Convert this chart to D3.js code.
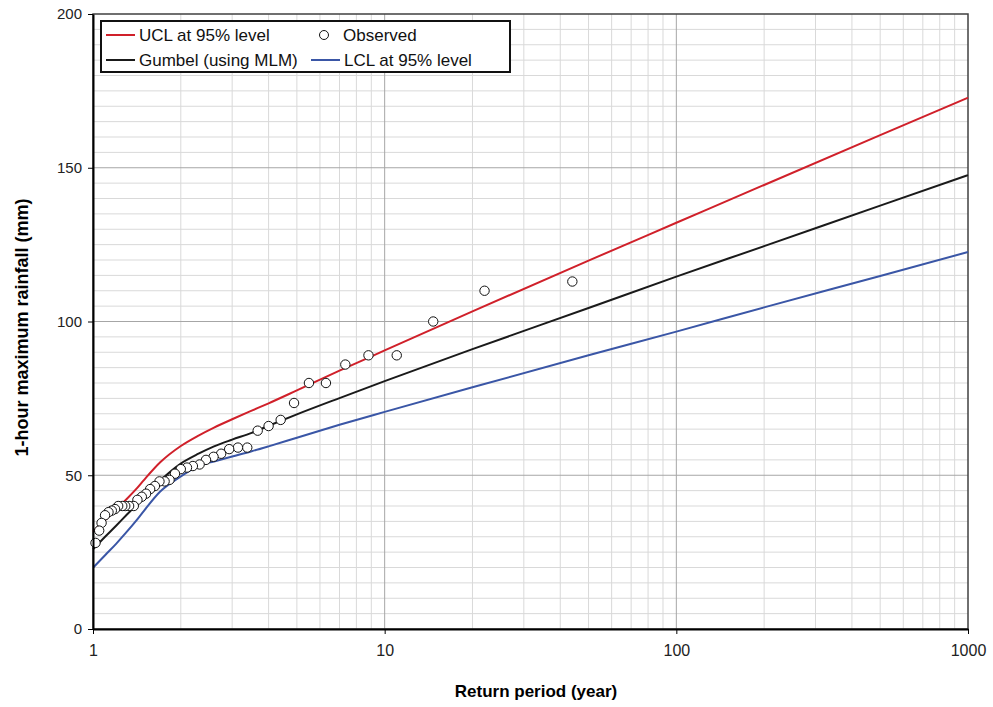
<!DOCTYPE html>
<html>
<head>
<meta charset="utf-8">
<script src="https://cdn.jsdelivr.net/npm/d3@7"></script>
<style>
  body { margin: 0; background: #fff; }
  text { font-family: "Liberation Sans", Arial, sans-serif; }
</style>
</head>
<body>
<div class="canvas"></div>
<script>
// return periods (year) at which the fitted curves were read
const returnPeriods = [1, 1.1, 1.2, 1.3, 1.4, 1.5, 1.7, 2, 2.3, 2.6, 3, 3.5, 4, 5, 7, 10, 20, 50, 100, 200, 500, 1000]
const ucl    = [31.6, 35.4, 38.9, 42.1, 45.3, 48.6, 54.2, 59.5, 62.9, 65.5, 68.2, 71.0, 73.4, 77.6, 84.0, 90.6, 103.3, 119.8, 132.1, 144.4, 160.6, 172.8]
const gumbel = [25.9, 30.0, 33.6, 37.0, 40.1, 43.3, 48.3, 53.8, 57.0, 59.4, 61.6, 63.8, 66.1, 69.8, 75.1, 80.6, 91.0, 104.4, 114.6, 124.5, 137.7, 147.6]
const lcl    = [19.9, 24.0, 27.7, 31.4, 35.0, 38.6, 44.7, 49.6, 53.1, 54.5, 56.1, 57.8, 59.4, 62.2, 66.4, 70.6, 78.6, 89.0, 96.7, 104.6, 114.8, 122.6]

// observed annual maxima and their plotting positions
const observedT = [44, 22, 14.67, 11, 8.8, 7.33, 6.29, 5.5, 4.89, 4.4,
    4, 3.67, 3.38, 3.14, 2.93, 2.75, 2.59, 2.44, 2.32, 2.2,
    2.1, 2, 1.91, 1.83, 1.76, 1.69, 1.63, 1.57, 1.52, 1.47,
    1.42, 1.38, 1.33, 1.29, 1.26, 1.22, 1.19, 1.16, 1.13, 1.1,
    1.07, 1.05, 1.02]
const observed = [113, 110, 100, 89, 89, 86, 80, 80, 73.5, 68,
    66, 64.5, 59, 59, 58.5, 57, 56, 55, 53.5, 53,
    52.5, 52, 50.5, 48.5, 48, 48, 46.5, 45.5, 44, 43,
    42, 40, 40, 40, 40, 40, 39, 38.5, 38, 37,
    34.5, 32, 28]

const xTicks = [1, 10, 100, 1000]
const yTicks = [0, 50, 100, 150, 200]

const width = 993, height = 707
const margins = { top: 14, right: 25, bottom: 78, left: 93 }
const gWidth = width - margins.left - margins.right
const gHeight = height - margins.top - margins.bottom

const svg = d3.select('.canvas').append('svg').attr('width', width).attr('height', height)
const graph = svg.append('g').attr('transform', `translate(${margins.left}, ${margins.top})`)

const x = d3.scaleLog().domain([1, 1000]).range([0, gWidth])
const y = d3.scaleLinear().domain([0, 200]).range([gHeight, 0])

// gridlines
const minorX = []
xTicks.slice(0, -1).forEach(d => { for (let k = 2; k <= 9; k++) minorX.push(d * k) })
const grid = graph.append('g')
grid.selectAll('.hminor').data(d3.range(5, 200, 5).filter(v => v % 50 !== 0)).enter().append('line')
    .attr('x1', 0).attr('x2', gWidth).attr('y1', d => y(d)).attr('y2', d => y(d))
    .attr('stroke', '#d9d9d9').attr('stroke-width', 1)
grid.selectAll('.vminor').data(minorX).enter().append('line')
    .attr('y1', 0).attr('y2', gHeight).attr('x1', d => x(d)).attr('x2', d => x(d))
    .attr('stroke', '#d9d9d9').attr('stroke-width', 1)
grid.selectAll('.hmajor').data(yTicks.slice(1, -1)).enter().append('line')
    .attr('x1', 0).attr('x2', gWidth).attr('y1', d => y(d)).attr('y2', d => y(d))
    .attr('stroke', '#a6a6a6').attr('stroke-width', 1)
grid.selectAll('.vmajor').data(xTicks.slice(1, -1)).enter().append('line')
    .attr('y1', 0).attr('y2', gHeight).attr('x1', d => x(d)).attr('x2', d => x(d))
    .attr('stroke', '#a6a6a6').attr('stroke-width', 1)

// plot border
graph.append('rect').attr('width', gWidth).attr('height', gHeight)
    .attr('fill', 'none').attr('stroke', '#404040').attr('stroke-width', 1.5)

// curves
const line = d3.line()
    .x(d => x(d[0]))
    .y(d => y(d[1]))
    .curve(d3.curveMonotoneX)

const series = [
    { values: ucl, color: '#d0202a' },
    { values: lcl, color: '#3a56a6' },
    { values: gumbel, color: '#1a1a1a' }
]
series.forEach(s => {
    graph.append('path')
        .datum(returnPeriods.map((t, i) => [t, s.values[i]]))
        .attr('d', line)
        .attr('fill', 'none')
        .attr('stroke', s.color)
        .attr('stroke-width', 2)
})

// observed points
graph.selectAll('circle.obs').data(observedT.map((t, i) => [t, observed[i]])).enter()
    .append('circle')
    .attr('cx', d => x(d[0]))
    .attr('cy', d => y(d[1]))
    .attr('r', 4.7)
    .attr('fill', '#fff')
    .attr('stroke', '#111')
    .attr('stroke-width', 1)

// axes
const xAxis = d3.axisBottom(x).tickValues(xTicks).tickFormat(d3.format('d')).tickSize(5).tickSizeOuter(0)
const yAxis = d3.axisLeft(y).tickValues(yTicks).tickSize(5).tickSizeOuter(0)

const xAxisGroup = graph.append('g').attr('transform', `translate(0, ${gHeight})`).call(xAxis)
const yAxisGroup = graph.append('g').call(yAxis)

;[xAxisGroup, yAxisGroup].forEach(g => {
    g.select('.domain').attr('stroke', '#000').attr('stroke-width', 2)
    g.selectAll('.tick line').attr('stroke', '#000').attr('stroke-width', 1)
    g.selectAll('.tick text').attr('fill', '#222')
        .style('font-family', '"Liberation Sans", Arial, sans-serif')
})
xAxisGroup.selectAll('.tick text').attr('font-size', 16).attr('dy', '1.2em')
yAxisGroup.selectAll('.tick text').attr('font-size', 15).attr('x', -11)

// axis titles
svg.append('text')
    .attr('x', 536).attr('y', 697)
    .attr('text-anchor', 'middle')
    .attr('font-size', 17).attr('font-weight', 'bold')
    .text('Return period (year)')

svg.append('text')
    .attr('transform', `translate(28, ${margins.top + gHeight / 2 + 6}) rotate(-90)`)
    .attr('text-anchor', 'middle')
    .attr('font-size', 18).attr('font-weight', 'bold')
    .text('1-hour maximum rainfall (mm)')

// legend
const legend = svg.append('g').attr('transform', 'translate(101, 21)')
legend.append('rect').attr('width', 409).attr('height', 51)
    .attr('fill', '#fff').attr('stroke', '#111').attr('stroke-width', 2)

const legendItems = [
    { label: 'UCL at 95% level', color: '#d0202a', x: 5, y: 14, type: 'line' },
    { label: 'Observed', color: '#111', x: 210, y: 14, type: 'circle' },
    { label: 'Gumbel (using MLM)', color: '#1a1a1a', x: 5, y: 39, type: 'line' },
    { label: 'LCL at 95% level', color: '#3a56a6', x: 210, y: 39, type: 'line' }
]
legendItems.forEach(d => {
    if (d.type === 'line') {
        legend.append('line')
            .attr('x1', d.x).attr('x2', d.x + 29).attr('y1', d.y).attr('y2', d.y)
            .attr('stroke', d.color).attr('stroke-width', 2)
    } else {
        legend.append('circle')
            .attr('cx', d.x + 13).attr('cy', d.y).attr('r', 4.5)
            .attr('fill', '#fff').attr('stroke', d.color).attr('stroke-width', 1)
    }
    legend.append('text')
        .attr('x', d.type === 'line' ? d.x + 33 : d.x + 32)
        .attr('y', d.y).attr('dy', '0.36em')
        .attr('font-size', 17).attr('fill', '#111')
        .text(d.label)
})
</script>
</body>
</html>
